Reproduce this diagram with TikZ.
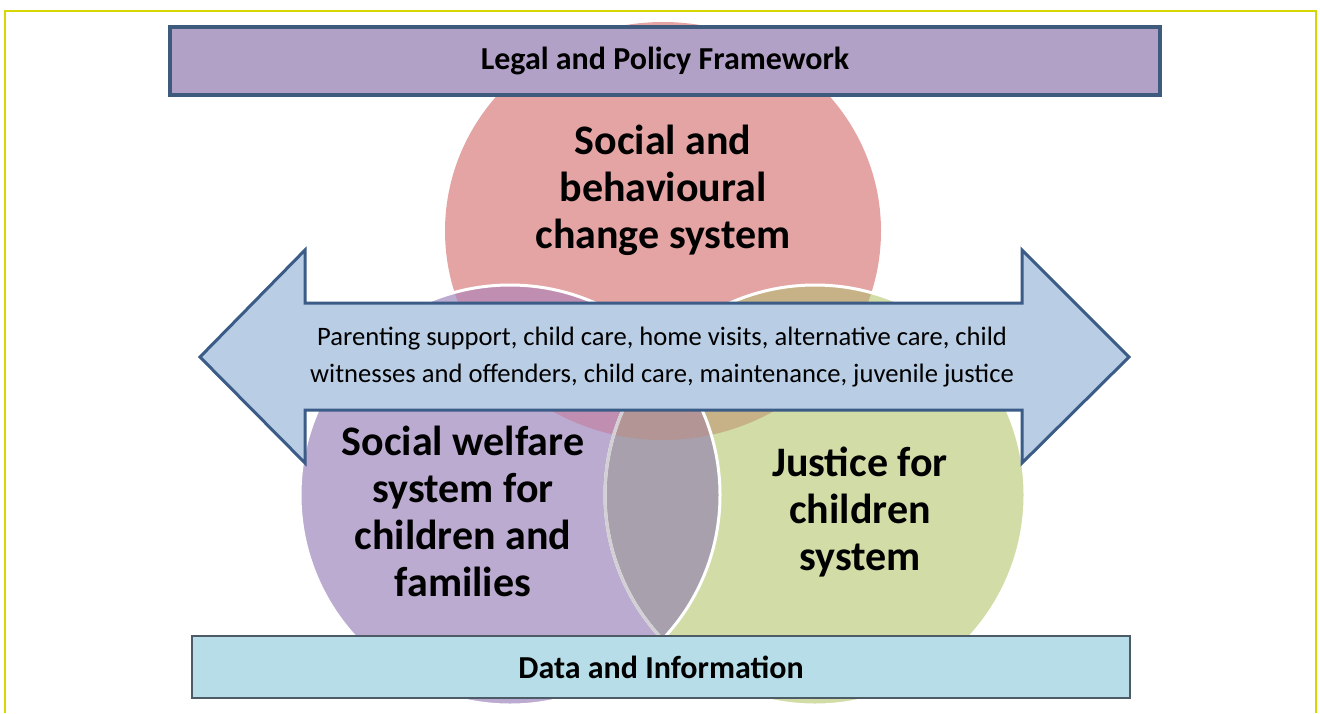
\documentclass[tikz,border=0pt]{standalone}
\usepackage{fontspec}
\setmainfont{Carlito}
\usepackage{tikz}

\definecolor{framec}{HTML}{D6D600}
\definecolor{sbcol}{HTML}{E5A4A4}
\definecolor{swcol}{HTML}{BBABD0}
\definecolor{jfcol}{HTML}{D2DCA6}
\definecolor{sbswcol}{HTML}{BF8EB0}
\definecolor{sbjfcol}{HTML}{C6B286}
\definecolor{swjfcol}{HTML}{A8A0AC}
\definecolor{allcol}{HTML}{B39595}
\definecolor{arrowfill}{HTML}{B9CDE5}
\definecolor{arrowline}{HTML}{3A5C87}
\definecolor{legalfill}{HTML}{B2A1C7}
\definecolor{legalline}{HTML}{3E5B7E}
\definecolor{datafill}{HTML}{B7DEE8}
\definecolor{dataline}{HTML}{4D5B66}

\begin{document}
\begin{tikzpicture}[x=0.5pt, y=-0.5pt,
	bigtext/.style={align=center, font=\fontsize{21}{23.5}\selectfont\bfseries},
	bartext/.style={font=\fontsize{16}{19}\selectfont\bfseries},
	smalltext/.style={align=center, font=\fontsize{13.3}{18.5}\selectfont}]
	\useasboundingbox (0,0) rectangle (1320,713);
	\draw[color=framec, line width=1pt] (5,713) -- (5,11) -- (1316,11) -- (1316,713);

	% three systems
	\coordinate (sbc) at (663,231);
	\coordinate (swc) at (510,495);
	\coordinate (jfc) at (815,495);
	\fill[sbcol] (sbc) circle[x radius=218, y radius=209];
	\fill[swcol] (swc) circle[radius=210];
	\fill[jfcol] (jfc) circle[radius=210];
	\begin{scope}
		\clip (sbc) circle[x radius=218, y radius=209];
		\fill[sbswcol] (swc) circle[radius=210];
		\fill[sbjfcol] (jfc) circle[radius=210];
	\end{scope}
	\begin{scope}
		\clip (swc) circle[radius=210];
		\fill[swjfcol] (jfc) circle[radius=210];
	\end{scope}
	\begin{scope}
		\clip (sbc) circle[x radius=218, y radius=209];
		\clip (swc) circle[radius=210];
		\fill[allcol] (jfc) circle[radius=210];
	\end{scope}
	\draw[white, line width=1.5pt] (jfc) circle[radius=210];
	\begin{scope}
		\clip (swc) circle[radius=210];
		\draw[swjfcol!50!white, line width=1.5pt] (jfc) circle[radius=210];
	\end{scope}
	\draw[white, line width=1.5pt] (swc) circle[radius=210];

	% frameworks
	\draw[color=legalline, fill=legalfill, line width=1.6pt] (170,27) rectangle (1160,95);
	\node[bartext] (legal) at (665,61) {Legal and Policy Framework};
	\draw[color=dataline, fill=datafill, line width=0.8pt] (192,636) rectangle (1130,698);
	\node[bartext] (data) at (661,667) {Data and Information};

	% services arrow
	\draw[color=arrowline, fill=arrowfill, line width=1.5pt, line join=miter]
		(200,357) -- (305,250) -- (305,303) -- (1022,303) -- (1022,250) -- (1129,357)
		-- (1022,463) -- (1022,410) -- (305,410) -- (305,463) -- cycle;
	\node[smalltext] (services) at (662,357) {Parenting support, child care, home visits, alternative care, child\\witnesses and offenders, child care, maintenance, juvenile justice};

	\node[bigtext] (sb) at (663,190) {Social and\\behavioural\\change system};
	\node[bigtext] (sw) at (463,511) {Social welfare\\system for\\children and\\families};
	\node[bigtext] (jf) at (860,512) {Justice for\\children\\system};
\end{tikzpicture}
\end{document}
